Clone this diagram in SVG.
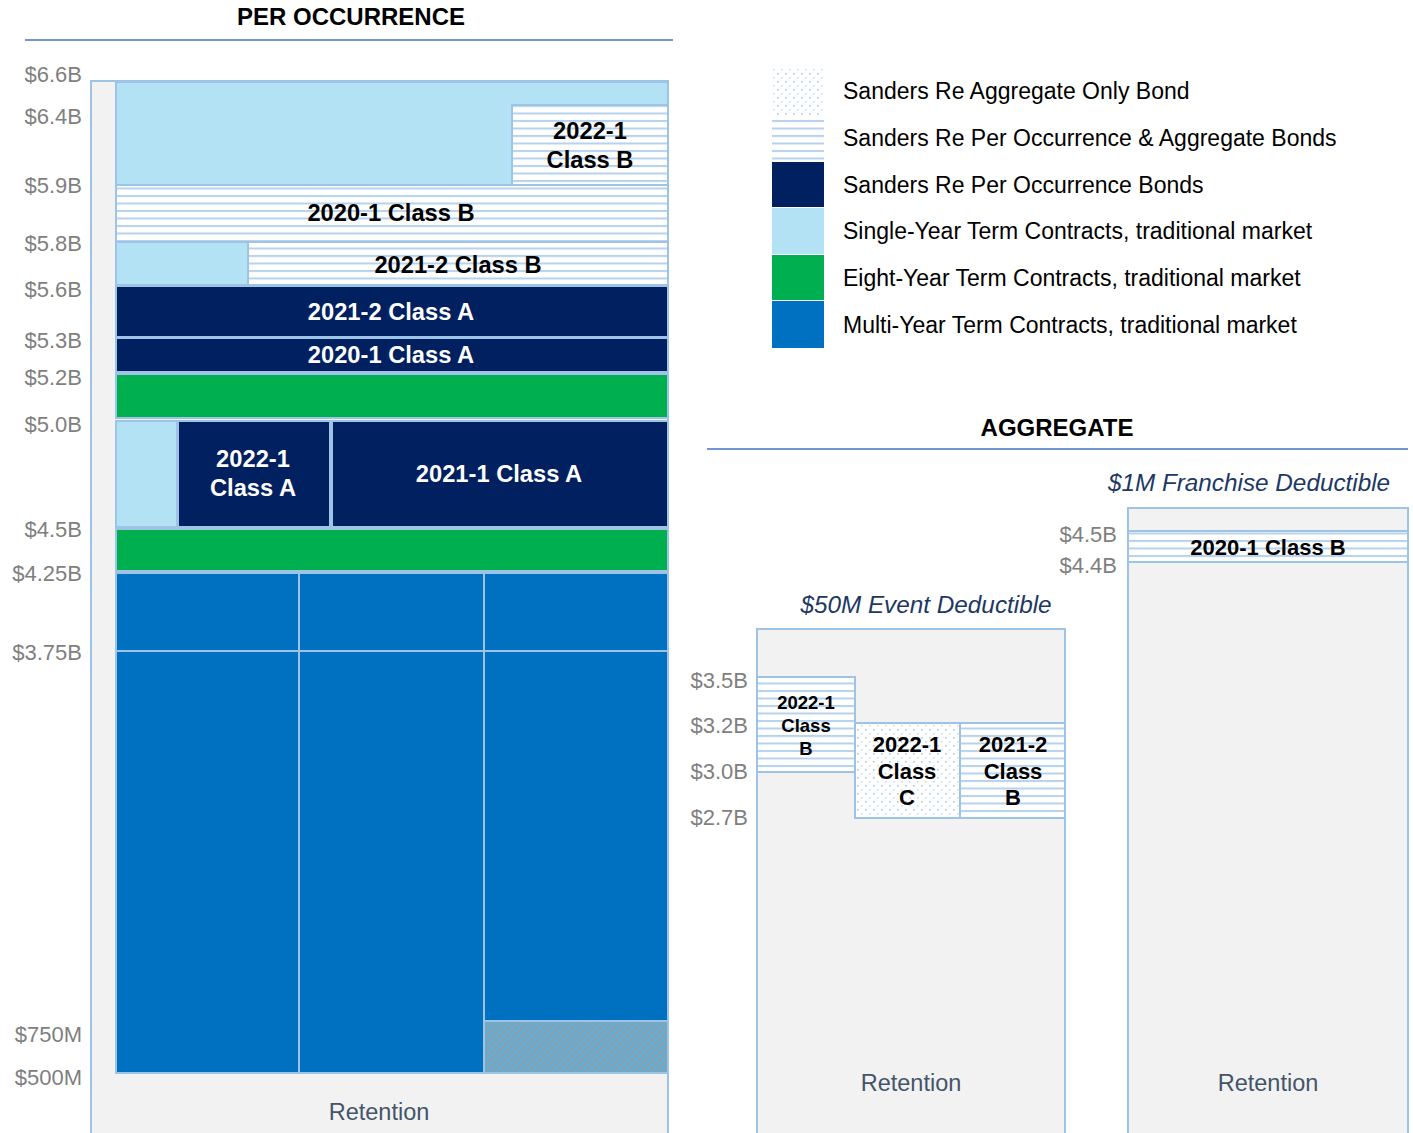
<svg xmlns="http://www.w3.org/2000/svg" width="1413" height="1133" viewBox="0 0 1413 1133">
<style>
.ttl{font-family:"Liberation Sans",Arial,sans-serif;font-weight:bold;font-size:24px;fill:#000;text-anchor:middle}
.ax{font-family:"Liberation Sans",Arial,sans-serif;font-size:22px;fill:#7f7f7f;text-anchor:end}
.lg{font-family:"Liberation Sans",Arial,sans-serif;font-size:23px;fill:#000}
.bl{font-family:"Liberation Sans",Arial,sans-serif;font-weight:bold;font-size:23.7px;fill:#000;text-anchor:middle}
.wl{font-family:"Liberation Sans",Arial,sans-serif;font-weight:bold;font-size:23.7px;fill:#fff;text-anchor:middle}
.sm{font-family:"Liberation Sans",Arial,sans-serif;font-weight:bold;font-size:18.5px;fill:#000;text-anchor:middle}
.md{font-family:"Liberation Sans",Arial,sans-serif;font-weight:bold;font-size:22px;fill:#000;text-anchor:middle}
.ret{font-family:"Liberation Sans",Arial,sans-serif;font-size:23.5px;fill:#44546a;text-anchor:middle}
.it{font-family:"Liberation Sans",Arial,sans-serif;font-style:italic;font-size:24.3px;fill:#203864;text-anchor:middle}
.pan{fill:#f2f2f2;stroke:#9dc3e6;stroke-width:2}
.blk{stroke:#9dc3e6;stroke-width:2}
.lb{fill:#b4e2f5}
.nv{fill:#002060}
.gr{fill:#00b050}
.bu{fill:#0070c0}
.hl{fill:url(#hlines)}
.dt{fill:url(#dots)}
.rule{stroke:#4472c4;stroke-width:1.5}
</style>
<defs>
<pattern id="hlines" width="8" height="7.5" patternUnits="userSpaceOnUse">
<rect width="8" height="7.5" fill="#ffffff"/>
<rect y="0" width="8" height="2" fill="#b6d2ee"/>
</pattern>
<pattern id="dots" width="8" height="8" patternUnits="userSpaceOnUse">
<rect width="8" height="8" fill="#ffffff"/>
<rect x="1" y="1" width="1.6" height="1.6" fill="#a6c8ea"/>
<rect x="5" y="5" width="1.6" height="1.6" fill="#c8def3"/>
</pattern>
<pattern id="diag" width="5" height="5" patternUnits="userSpaceOnUse" patternTransform="rotate(45)">
<rect width="5" height="5" fill="#5cb0dc"/>
<rect width="2.5" height="5" fill="#8b9eab"/>
</pattern>
</defs>

<!-- PER OCCURRENCE -->
<text class="ttl" x="351" y="25">PER OCCURRENCE</text>
<line class="rule" x1="25" y1="40" x2="673" y2="40"/>

<g id="axis-left">
<text class="ax" x="82" y="82">$6.6B</text>
<text class="ax" x="82" y="124">$6.4B</text>
<text class="ax" x="82" y="193">$5.9B</text>
<text class="ax" x="82" y="251">$5.8B</text>
<text class="ax" x="82" y="297">$5.6B</text>
<text class="ax" x="82" y="348">$5.3B</text>
<text class="ax" x="82" y="385">$5.2B</text>
<text class="ax" x="82" y="432">$5.0B</text>
<text class="ax" x="82" y="537">$4.5B</text>
<text class="ax" x="82" y="581">$4.25B</text>
<text class="ax" x="82" y="660">$3.75B</text>
<text class="ax" x="82" y="1042">$750M</text>
<text class="ax" x="82" y="1085">$500M</text>
</g>

<g id="po-panel">
<rect class="pan" x="91" y="81" width="577" height="1060"/>
</g>

<g id="po-single-top"><rect class="blk lb" x="116" y="82" width="552" height="103"/></g>
<g id="po-2022-1-classB">
<rect class="blk hl" x="512" y="105" width="156" height="80"/>
<text class="bl" x="590" y="139">2022-1</text>
<text class="bl" x="590" y="168">Class B</text>
</g>
<g id="po-2020-1-classB">
<rect class="blk hl" x="116" y="185" width="552" height="57"/>
<text class="bl" x="391" y="221">2020-1 Class B</text>
</g>
<g id="po-single-2"><rect class="blk lb" x="116" y="242" width="132" height="43"/></g>
<g id="po-2021-2-classB">
<rect class="blk hl" x="248" y="242" width="420" height="43"/>
<text class="bl" x="458" y="273">2021-2 Class B</text>
</g>
<g id="po-2021-2-classA">
<rect class="blk nv" x="116" y="286" width="552" height="51"/>
<text class="wl" x="391" y="320">2021-2 Class A</text>
</g>
<g id="po-2020-1-classA">
<rect class="blk nv" x="116" y="338" width="552" height="34"/>
<text class="wl" x="391" y="363">2020-1 Class A</text>
</g>
<g id="po-eight-1"><rect class="blk gr" x="116" y="374" width="552" height="44"/></g>
<g id="po-single-3"><rect class="blk lb" x="116" y="421" width="61" height="106"/></g>
<g id="po-2022-1-classA">
<rect class="blk nv" x="178" y="421" width="152" height="106"/>
<text class="wl" x="253" y="467">2022-1</text>
<text class="wl" x="253" y="496">Class A</text>
</g>
<g id="po-2021-1-classA">
<rect class="blk nv" x="332" y="421" width="336" height="106"/>
<text class="wl" x="499" y="482">2021-1 Class A</text>
</g>
<g id="po-eight-2"><rect class="blk gr" x="116" y="529" width="552" height="42"/></g>
<g id="po-multi">
<rect class="blk bu" x="116" y="573" width="183" height="78"/>
<rect class="blk bu" x="299" y="573" width="185" height="78"/>
<rect class="blk bu" x="484" y="573" width="184" height="78"/>
<rect class="blk bu" x="116" y="651" width="183" height="422"/>
<rect class="blk bu" x="299" y="651" width="185" height="422"/>
<rect class="blk bu" x="484" y="651" width="184" height="370"/>
<rect class="blk" fill="url(#diag)" x="484" y="1021" width="184" height="52"/>
</g>
<text class="ret" x="379" y="1120">Retention</text>

<!-- Legend -->
<g id="legend">
<rect x="772" y="68" width="52" height="47" fill="url(#dots)"/>
<rect x="772" y="116" width="52" height="45" fill="url(#hlines)"/>
<rect x="772" y="162" width="52" height="45" fill="#002060"/>
<rect x="772" y="208" width="52" height="46" fill="#b4e2f5"/>
<rect x="772" y="255" width="52" height="45" fill="#00b050"/>
<rect x="772" y="301" width="52" height="47" fill="#0070c0"/>
<text class="lg" x="843" y="99">Sanders Re Aggregate Only Bond</text>
<text class="lg" x="843" y="146">Sanders Re Per Occurrence &amp; Aggregate Bonds</text>
<text class="lg" x="843" y="193">Sanders Re Per Occurrence Bonds</text>
<text class="lg" x="843" y="239">Single-Year Term Contracts, traditional market</text>
<text class="lg" x="843" y="286">Eight-Year Term Contracts, traditional market</text>
<text class="lg" x="843" y="333">Multi-Year Term Contracts, traditional market</text>
</g>

<!-- AGGREGATE -->
<text class="ttl" x="1057" y="436">AGGREGATE</text>
<line class="rule" x1="707" y1="449" x2="1408" y2="449"/>

<g id="agg-event">
<text class="it" x="926" y="613">$50M Event Deductible</text>
<rect class="pan" x="757" y="629" width="308" height="512"/>
<text class="ax" x="748" y="688">$3.5B</text>
<text class="ax" x="748" y="733">$3.2B</text>
<text class="ax" x="748" y="779">$3.0B</text>
<text class="ax" x="748" y="825">$2.7B</text>
<text class="ret" x="911" y="1091">Retention</text>
</g>
<g id="agg-2022-1-classB">
<rect class="blk hl" x="757" y="677" width="98" height="95"/>
<text class="sm" x="806" y="709">2022-1</text>
<text class="sm" x="806" y="732">Class</text>
<text class="sm" x="806" y="755">B</text>
</g>
<g id="agg-2022-1-classC">
<rect class="blk dt" x="855" y="723" width="105" height="95"/>
<text class="md" x="907" y="752">2022-1</text>
<text class="md" x="907" y="779">Class</text>
<text class="md" x="907" y="805">C</text>
</g>
<g id="agg-2021-2-classB">
<rect class="blk hl" x="960" y="723" width="105" height="95"/>
<text class="md" x="1013" y="752">2021-2</text>
<text class="md" x="1013" y="779">Class</text>
<text class="md" x="1013" y="805">B</text>
</g>

<g id="agg-franchise">
<text class="it" x="1249" y="491">$1M Franchise Deductible</text>
<rect class="pan" x="1128" y="508" width="280" height="633"/>
<text class="ax" x="1117" y="542">$4.5B</text>
<text class="ax" x="1117" y="573">$4.4B</text>
<text class="ret" x="1268" y="1091">Retention</text>
</g>
<g id="agg-2020-1-classB">
<rect class="blk hl" x="1128" y="531" width="280" height="31"/>
<text class="md" x="1268" y="555">2020-1 Class B</text>
</g>
</svg>
